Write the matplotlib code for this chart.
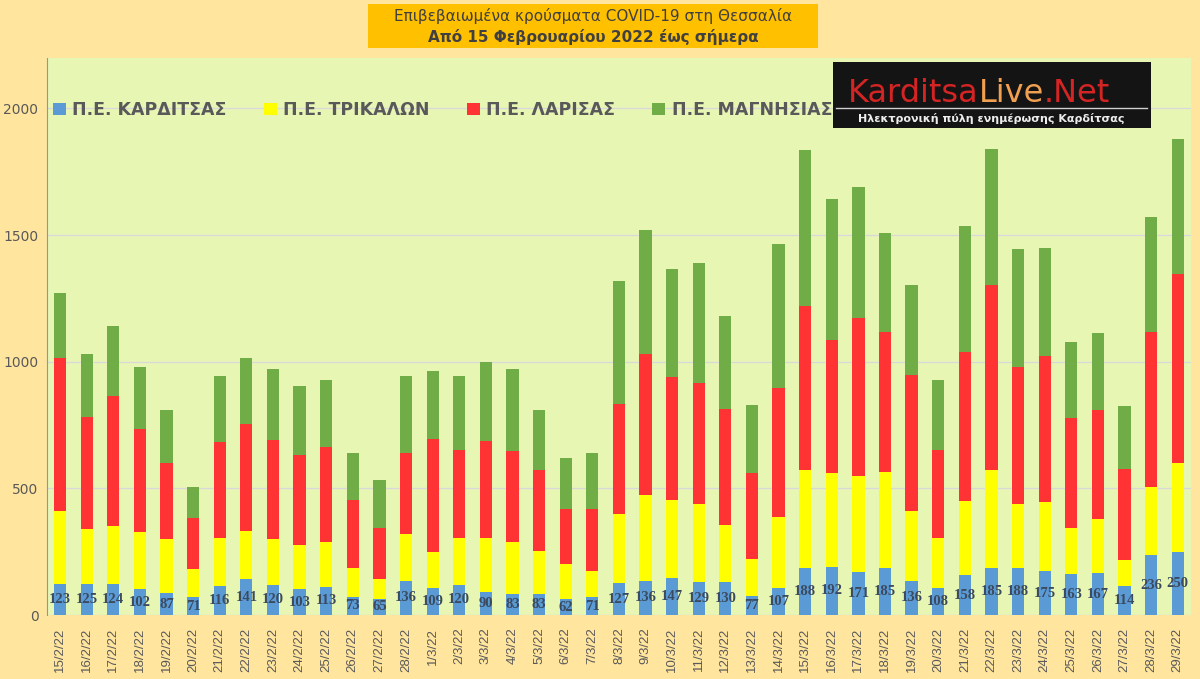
import numpy as np
import matplotlib
matplotlib.use("Agg")
import matplotlib.pyplot as plt
from matplotlib.patches import Rectangle

# ημερομηνίες
dates = ["15/2/22", "16/2/22", "17/2/22", "18/2/22", "19/2/22", "20/2/22", "21/2/22",
         "22/2/22", "23/2/22", "24/2/22", "25/2/22", "26/2/22", "27/2/22", "28/2/22",
         "1/3/22", "2/3/22", "3/3/22", "4/3/22", "5/3/22", "6/3/22", "7/3/22",
         "8/3/22", "9/3/22", "10/3/22", "11/3/22", "12/3/22", "13/3/22", "14/3/22",
         "15/3/22", "16/3/22", "17/3/22", "18/3/22", "19/3/22", "20/3/22", "21/3/22",
         "22/3/22", "23/3/22", "24/3/22", "25/3/22", "26/3/22", "27/3/22", "28/3/22",
         "29/3/22"]

karditsa = [123, 125, 124, 102, 87, 71, 116, 141, 120, 103, 113, 73, 65, 136,
            109, 120, 90, 83, 83, 62, 71, 127, 136, 147, 129, 130, 77, 107,
            188, 192, 171, 185, 136, 108, 158, 185, 188, 175, 163, 167, 114, 236, 250]
trikala = [290, 215, 226, 228, 212, 111, 187, 191, 179, 175, 176, 114, 78, 185,
           140, 183, 213, 206, 169, 139, 105, 271, 339, 306, 310, 224, 146, 281,
           385, 369, 380, 381, 274, 195, 294, 388, 251, 271, 181, 212, 105, 271, 352]
larisa = [602, 444, 515, 406, 303, 201, 379, 423, 391, 356, 374, 269, 201, 318,
          448, 350, 384, 357, 321, 219, 244, 437, 554, 487, 477, 460, 338, 509,
          646, 525, 620, 551, 539, 350, 585, 730, 542, 575, 436, 430, 357, 610, 744]
magnisia = [258, 248, 278, 245, 207, 123, 263, 260, 281, 271, 267, 183, 188, 306,
            268, 292, 313, 325, 236, 201, 219, 484, 490, 428, 472, 368, 267, 568,
            615, 556, 517, 393, 354, 277, 498, 536, 464, 430, 300, 303, 249, 455, 532]

names = ["Π.Ε. ΚΑΡΔΙΤΣΑΣ", "Π.Ε. ΤΡΙΚΑΛΩΝ", "Π.Ε. ΛΑΡΙΣΑΣ", "Π.Ε. ΜΑΓΝΗΣΙΑΣ"]
colors = ["#5B9BD5", "#FFFF00", "#FF3333", "#70AD47"]

plt.rcParams['font.family'] = ['DejaVu Sans']

fig = plt.figure(figsize=(12, 6.79), dpi=100)
fig.patch.set_facecolor("#FFE59E")
ax = fig.add_axes([0.039, 0.094, 0.9535, 0.821])
ax.set_facecolor("#E8F6B4")

x = np.arange(len(dates))
bottom = np.zeros(len(dates))
bars = []
for vals, name, col in zip([karditsa, trikala, larisa, magnisia], names, colors):
    b = ax.bar(x, vals, 0.46, bottom=bottom, color=col, label=name, zorder=3)
    bars.append(b)
    bottom += np.array(vals)

ax.bar_label(bars[0], labels=[str(v) for v in karditsa], label_type="center",
             fontsize=10.5, fontweight="bold", color="#3B4A5E", zorder=4,
             family="Liberation Serif")

ax.set_xlim(-0.5, len(dates) - 0.5)
ax.set_ylim(0, 2200)
ax.set_yticks([0, 500, 1000, 1500, 2000])
ax.set_xticks(x)
ax.set_xticklabels(dates, rotation=90, fontsize=9.5, color="#595959",
                   family="Liberation Sans")
ax.tick_params(axis="y", labelsize=10, colors="#595959", length=0, pad=6)
ax.tick_params(axis="x", length=0, pad=9)
ax.grid(axis="y", color="#D9D9D9", linewidth=1, zorder=0)
for s in ["top", "right", "bottom"]:
    ax.spines[s].set_visible(False)
ax.spines["left"].set_color("#6FA0C8")

leg = ax.legend(loc="center left", bbox_to_anchor=(-0.008, 0.906), ncol=4, frameon=False,
                handlelength=0.75, handleheight=0.75, handletextpad=0.35, columnspacing=2.15,
                prop={"size": 12.5, "weight": "bold"})
for t in leg.get_texts():
    t.set_color("#595959")

# τίτλος
fig.patches.append(Rectangle((368 / 1200, 1 - 48 / 679), 450 / 1200, 44 / 679,
                             transform=fig.transFigure, facecolor="#FFC000",
                             edgecolor="none", zorder=1))
fig.text(593 / 1200, 1 - 16 / 679, "Επιβεβαιωμένα κρούσματα COVID-19 στη Θεσσαλία",
         ha="center", va="center", fontsize=11, color="#404040")
fig.text(593 / 1200, 1 - 37 / 679, "Από 15 Φεβρουαρίου 2022 έως σήμερα",
         ha="center", va="center", fontsize=11, fontweight="bold", color="#404040")

# λογότυπο
fig.patches.append(Rectangle((833 / 1200, 1 - 128 / 679), 318 / 1200, 66 / 679,
                             transform=fig.transFigure, facecolor="#141414",
                             edgecolor="none", zorder=5))
fig.lines.append(plt.Line2D([836 / 1200, 1147 / 1200], [1 - 108 / 679, 1 - 108 / 679],
                            transform=fig.transFigure, color="#D0D0D0", lw=1, zorder=6))
renderer = fig.canvas.get_renderer()
xpos = 848 / 1200
for part, col in [("Karditsa", "#D42424"), ("Live", "#F0A050"), (".Net", "#D42424")]:
    t = fig.text(xpos, 1 - 93 / 679, part, ha="left", va="center", fontsize=23,
                 color=col, zorder=6)
    bb = t.get_window_extent(renderer=renderer)
    xpos += bb.width / fig.bbox.width
fig.text(991 / 1200, 1 - 118 / 679, "Ηλεκτρονική πύλη ενημέρωσης Καρδίτσας",
         ha="center", va="center", fontsize=8, color="#EDEDED", fontweight="bold", zorder=6)

fig.savefig("out.png", dpi=100, facecolor=fig.get_facecolor())
